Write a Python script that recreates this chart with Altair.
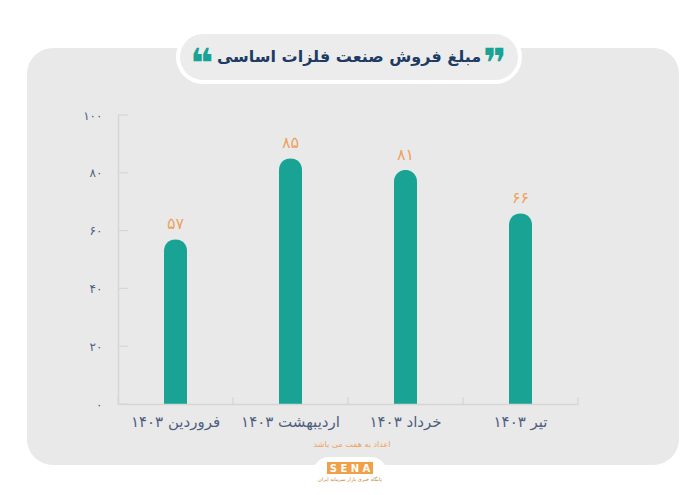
import altair as alt
import pandas as pd

months = ["فروردین ۱۴۰۳", "اردیبهشت ۱۴۰۳", "خرداد ۱۴۰۳", "تیر ۱۴۰۳"]
values = [57, 85, 81, 66]
value_labels = ["۵۷", "۸۵", "۸۱", "۶۶"]
y_ticks = [0, 20, 40, 60, 80, 100]
y_tick_labels = ["۰", "۲۰", "۴۰", "۶۰", "۸۰", "۱۰۰"]
title_text = "مبلغ فروش صنعت فلزات اساسی"
footnote = "اعداد به همت می باشد"
logo_text = "S E N A"
logo_sub = "پایگاه خبری بازار سرمایه ایران"

FONT = "DejaVu Sans"
TEAL = "#18a394"
ORANGE = "#eea261"
NAVY = "#1d3b63"
AXIS_TXT = "#4f6080"
PANEL = "#e9e9e9"
LINE = "#d6d6d6"

df = pd.DataFrame({"cat": months, "val": values, "lab": value_labels})
ticks_df = pd.DataFrame({"t": y_ticks})
one = pd.DataFrame({"d": [0]})

label_expr = " : ".join(
    f"datum.value == {v} ? '{s}'" for v, s in zip(y_ticks, y_tick_labels)
) + " : ''"

xenc = alt.X(
    "cat:N",
    sort=months,
    scale=alt.Scale(paddingInner=0, paddingOuter=0),
    axis=alt.Axis(
        title=None, labels=False, ticks=False,
        domainColor=LINE, domainWidth=1.5, zindex=1,
    ),
)
yscale = alt.Scale(domain=[0, 100], nice=False)

# decorations
panel = alt.Chart(one).mark_rect(cornerRadius=26, color=PANEL).encode(
    x=alt.value(-91), x2=alt.value(561), y=alt.value(-67), y2=alt.value(350)
)
pill = alt.Chart(one).mark_rect(
    cornerRadius=25, fill="#ececec", stroke="white", strokeWidth=4
).encode(x=alt.value(60), x2=alt.value(402), y=alt.value(-83), y2=alt.value(-33))
title = alt.Chart(one).mark_text(
    font=FONT, fontSize=16, fontWeight="bold", color=NAVY
).encode(x=alt.value(231), y=alt.value(-58), text=alt.value(title_text))
q_left = alt.Chart(one).mark_text(
    font=FONT, fontSize=40, fontWeight="bold", color=TEAL
).encode(x=alt.value(84), y=alt.value(-50), text=alt.value("❝"))
q_right = alt.Chart(one).mark_text(
    font=FONT, fontSize=40, fontWeight="bold", color=TEAL
).encode(x=alt.value(377), y=alt.value(-50), text=alt.value("❞"))
note = alt.Chart(one).mark_text(font=FONT, fontSize=8, color=ORANGE).encode(
    x=alt.value(234), y=alt.value(330), text=alt.value(footnote)
)
logo_bg = alt.Chart(one).mark_rect(cornerRadius=16, color="white").encode(
    x=alt.value(195), x2=alt.value(269), y=alt.value(342), y2=alt.value(380)
)
logo_box = alt.Chart(one).mark_rect(color="#f0a046").encode(
    x=alt.value(209), x2=alt.value(255), y=alt.value(347), y2=alt.value(359)
)
logo_txt = alt.Chart(one).mark_text(
    font=FONT, fontSize=10, fontWeight="bold", color="white"
).encode(x=alt.value(232), y=alt.value(353.5), text=alt.value(logo_text))
logo_small = alt.Chart(one).mark_text(font=FONT, fontSize=5, color="#c08030").encode(
    x=alt.value(232), y=alt.value(364), text=alt.value(logo_sub)
)

# inward ticks
ytick_rules = alt.Chart(ticks_df).mark_rule(color=LINE, strokeWidth=1.2).encode(
    y=alt.Y("t:Q", scale=yscale), x=alt.value(0), x2=alt.value(10)
)
xtick_rules = alt.Chart(df).mark_rule(color=LINE, strokeWidth=1.2).encode(
    x=alt.X("cat:N", sort=months, bandPosition=0), y=alt.value(282), y2=alt.value(289)
)
xtick_last = alt.Chart(df).transform_filter(
    alt.datum.cat == months[-1]
).mark_rule(color=LINE, strokeWidth=1.2).encode(
    x=alt.X("cat:N", sort=months, bandPosition=1), y=alt.value(282), y2=alt.value(289)
)

bars = alt.Chart(df).mark_bar(
    size=23, color=TEAL, cornerRadiusTopLeft=11.5, cornerRadiusTopRight=11.5
).encode(
    x=xenc,
    y=alt.Y(
        "val:Q", scale=yscale,
        axis=alt.Axis(
            title=None, values=y_ticks, labelExpr=label_expr, grid=False,
            ticks=False, labelFont=FONT, labelFontSize=12, labelColor=AXIS_TXT,
            labelPadding=16, domainColor=LINE, domainWidth=1.5, zindex=1,
        ),
    ),
)
labels = alt.Chart(df).mark_text(
    font=FONT, fontSize=16, color=ORANGE, dy=-15
).encode(x=alt.X("cat:N", sort=months), y=alt.Y("val:Q", scale=yscale), text="lab:N")

xlabels = alt.Chart(df).mark_text(
    font=FONT, fontSize=15, color=AXIS_TXT, dir="rtl", align="center", baseline="middle"
).encode(x=alt.X("cat:N", sort=months), y=alt.value(307), text="cat:N")

chart = alt.layer(
    panel, pill, title, q_left, q_right, note, logo_bg, logo_box, logo_txt, logo_small,
    ytick_rules, xtick_rules, xtick_last, bars, labels, xlabels,
).properties(
    width=460, height=289,
    padding={"left": 110, "top": 107, "right": 114, "bottom": 83},
    autosize=alt.AutoSizeParams(type="none"),
    background="white",
).configure_view(stroke=None)

chart.save("out.html", embed_options={"renderer": "svg", "actions": False})
